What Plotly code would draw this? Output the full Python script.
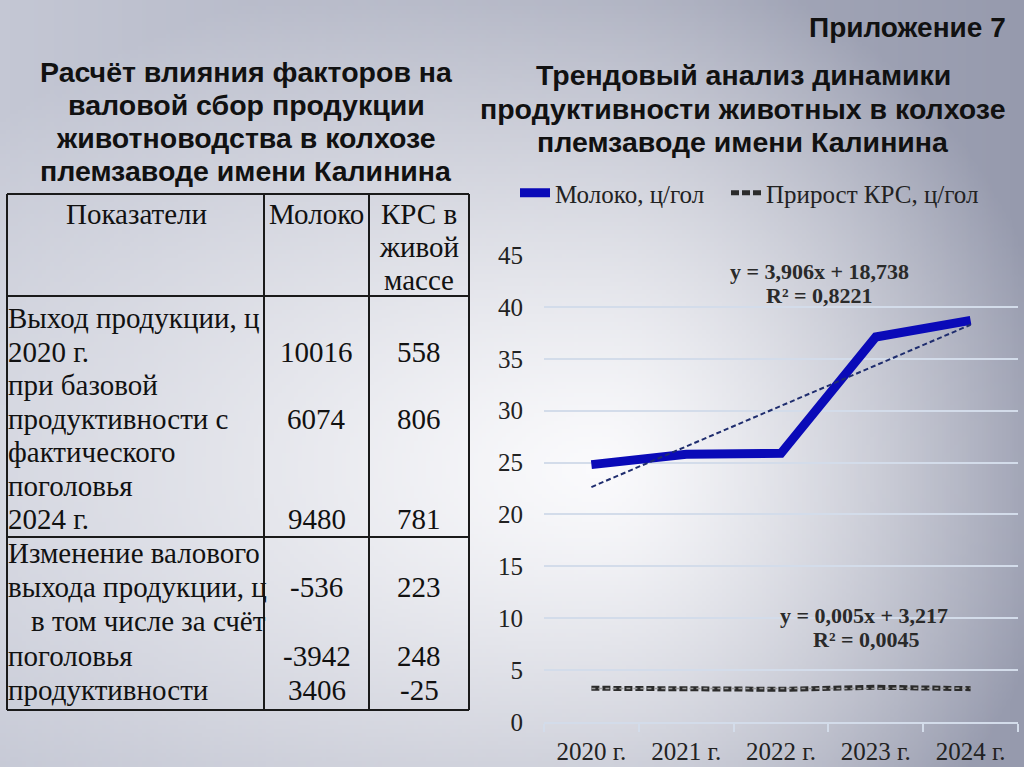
import math, zlib, struct, base64
import numpy as np
import plotly.graph_objects as go

# ---------------- data ----------------
years = ["2020 г.", "2021 г.", "2022 г.", "2023 г.", "2024 г."]
milk_yield = [24.8, 25.8, 25.9, 37.1, 38.7]          # Молоко, ц/гол
cattle_gain = [3.25, 3.2, 3.15, 3.35, 3.21]          # Прирост КРС, ц/гол
milk_eq = ["y = 3,906x + 18,738", "R² = 0,8221"]
cattle_eq = ["y = 0,005x + 3,217", "R² = 0,0045"]

tbl_header = ["Показатели", "Молоко"]
tbl_header_krs = ["КРС в", "живой", "массе"]
sec1_labels = ["Выход продукции, ц", "2020 г.", "при базовой", "продуктивности с",
               "фактического", "поголовья", "2024 г."]
sec1_rows = [1, 3, 6]
sec1_milk = [10016, 6074, 9480]
sec1_krs = [558, 806, 781]
sec2_labels = ["Изменение валового", "выхода продукции, ц", "в том числе за счёт",
               "поголовья", "продуктивности"]
sec2_rows = [1, 3, 4]
sec2_milk = [-536, -3942, 3406]
sec2_krs = [223, 248, -25]

# ---------------- helpers ----------------
W, H = 1024, 767
def px(x): return x / W
def py(y): return 1 - y / H

SANS = "Liberation Sans, Arial, sans-serif"
SERIF = "Liberation Serif, Times New Roman, serif"

annotations = []
def text(x, y, s, size, family, weight="normal", anchor="center", color="#111"):
    annotations.append(dict(x=px(x), y=py(y), xref="paper", yref="paper", text=s,
                            showarrow=False, xanchor=anchor, yanchor="middle",
                            font=dict(family=family, size=size, color=color, weight=weight)))

def lerp(a, b, t):
    return tuple(int(round(a[k] + (b[k] - a[k]) * t)) for k in range(3))

def bg_fn(x, y):
    cx, cy = 600, 470
    sx = 820 if x < cx else 470
    sy = 520 if y < cy else 480
    d = math.sqrt(((x - cx) / sx) ** 2 + ((y - cy) / sy) ** 2)
    t = min(d, 1.0) ** 1.3
    edge = lerp((196, 199, 212), (150, 154, 173), x / W)
    return lerp((250, 250, 252), edge, t)

def make_png(w, h, fn):
    raw = bytearray()
    for j in range(h):
        raw.append(0)
        for i in range(w):
            raw += bytes(fn((i + 0.5) * W / w, (j + 0.5) * H / h))
    def chunk(tag, data):
        return (struct.pack(">I", len(data)) + tag + data +
                struct.pack(">I", zlib.crc32(tag + data) & 0xffffffff))
    png = (b"\x89PNG\r\n\x1a\n" +
           chunk(b"IHDR", struct.pack(">IIBBBBB", w, h, 8, 2, 0, 0, 0)) +
           chunk(b"IDAT", zlib.compress(bytes(raw), 9)) + chunk(b"IEND", b""))
    return "data:image/png;base64," + base64.b64encode(png).decode()

# ---------------- figure ----------------
fig = go.Figure()
xi = np.arange(1, len(years) + 1)
mk = np.polyfit(xi, milk_yield, 1)
ck = np.polyfit(xi, cattle_gain, 1)

fig.add_trace(go.Scatter(x=years, y=milk_yield, mode="lines", name="Молоко, ц/гол",
                         line=dict(color="#0a0ab8", width=9), legend="legend"))
fig.add_trace(go.Scatter(x=years, y=list(np.polyval(mk, xi)), mode="lines", showlegend=False,
                         line=dict(color="#1f2d6e", width=2, dash="5px,3px"), hoverinfo="skip"))
fig.add_trace(go.Scatter(x=years, y=cattle_gain, mode="lines", name="Прирост КРС, ц/гол",
                         line=dict(color="#2b2b2b", width=5, dash="8px,3px"), legend="legend2"))
fig.add_trace(go.Scatter(x=years, y=list(np.polyval(ck, xi)), mode="lines", showlegend=False,
                         line=dict(color="#9a9a9a", width=1.5, dash="4px,3px"), hoverinfo="skip"))

# ---------------- titles ----------------
text(1008, 28, "Приложение 7", 28, SANS, "bold", anchor="right")
for i, s in enumerate(["Расчёт влияния факторов на", "валовой сбор продукции",
                       "животноводства в колхозе", "племзаводе имени Калинина"]):
    text(246, 72 + 33 * i, s, 28.5, SANS, "bold")
for i, s in enumerate(["Трендовый анализ динамики", "продуктивности животных в колхозе",
                       "племзаводе имени Калинина"]):
    text(743, 75 + 33.5 * i, s, 28.5, SANS, "bold")

# ---------------- table ----------------
shapes = []
def line(x0, y0, x1, y1):
    shapes.append(dict(type="line", xref="paper", yref="paper", x0=px(x0), y0=py(y0),
                       x1=px(x1), y1=py(y1), line=dict(color="#1a1a1a", width=2)))
TL, TR, TT, TB = 7, 469, 194, 710
C1, C2 = 264, 369
R1, R2 = 296, 537
for yy in (TT, R1, R2, TB):
    line(TL, yy, TR, yy)
for xx in (TL, C1, C2, TR):
    line(xx, TT, xx, TB)

c2 = (C1 + C2) / 2
c3 = (C2 + TR) / 2
TS = 29
text(136, 214, tbl_header[0], TS, SERIF)
text(c2, 214, tbl_header[1], TS, SERIF)
for i, s in enumerate(tbl_header_krs):
    text(c3, 214 + 33 * i, s, TS, SERIF)

y1 = [318 + 33.5 * i for i in range(len(sec1_labels))]
for i, s in enumerate(sec1_labels):
    text(6, y1[i], s, TS, SERIF, anchor="left")
for r, m, k in zip(sec1_rows, sec1_milk, sec1_krs):
    text(c2, y1[r], str(m), TS, SERIF)
    text(c3, y1[r], str(k), TS, SERIF)

y2 = [553 + 34.2 * i for i in range(len(sec2_labels))]
for i, s in enumerate(sec2_labels):
    text(29 if i == 2 else 6, y2[i], s, TS, SERIF, anchor="left")
for r, m, k in zip(sec2_rows, sec2_milk, sec2_krs):
    text(c2, y2[r], str(m), TS, SERIF)
    text(c3, y2[r], str(k), TS, SERIF)

# ---------------- trend equations ----------------
text(819, 271, milk_eq[0], 22, SERIF, "bold", color="#2a2a2a")
text(819, 295, milk_eq[1], 22, SERIF, "bold", color="#2a2a2a")
text(864, 615, cattle_eq[0], 22, SERIF, "bold", color="#2a2a2a")
text(866, 639, cattle_eq[1], 22, SERIF, "bold", color="#2a2a2a")

GRID = "#d3dcea"
LEG_FONT = dict(family=SERIF, size=25, color="#222")
fig.update_layout(
    width=W, height=H, autosize=False,
    margin=dict(l=0, r=0, t=0, b=0, pad=0, autoexpand=False),
    paper_bgcolor="#c0c3d0", plot_bgcolor="rgba(0,0,0,0)",
    images=[dict(source=make_png(256, 192, bg_fn), xref="paper", yref="paper",
                 x=0, y=1, sizex=1, sizey=1, sizing="stretch", layer="below",
                 xanchor="left", yanchor="top")],
    xaxis=dict(domain=[px(544), px(1018)], type="category", range=[-0.5, 4.5],
               showgrid=False, showline=True, linecolor=GRID, linewidth=2,
               ticks="outside", tickson="boundaries", ticklen=8, tickcolor=GRID, tickwidth=2,
               ticklabelstandoff=6,
               tickfont=dict(family=SERIF, size=25, color="#222"), fixedrange=True),
    yaxis=dict(domain=[py(722), py(255)], range=[0, 45], dtick=5, showgrid=True,
               gridcolor=GRID, gridwidth=2, zeroline=False, showline=False, ticks="",
               ticklabelstandoff=20,
               tickfont=dict(family=SERIF, size=25, color="#222"), fixedrange=True),
    legend=dict(orientation="h", x=px(515), y=py(193), xanchor="left", yanchor="middle",
                font=LEG_FONT, bgcolor="rgba(0,0,0,0)", itemwidth=30),
    legend2=dict(orientation="h", x=px(726), y=py(193), xanchor="left", yanchor="middle",
                 font=LEG_FONT, bgcolor="rgba(0,0,0,0)", itemwidth=30),
    annotations=annotations, shapes=shapes, showlegend=True,
)

fig.write_html("out.html", config={"displayModeBar": False},
               post_script="document.body.style.margin='0';")
